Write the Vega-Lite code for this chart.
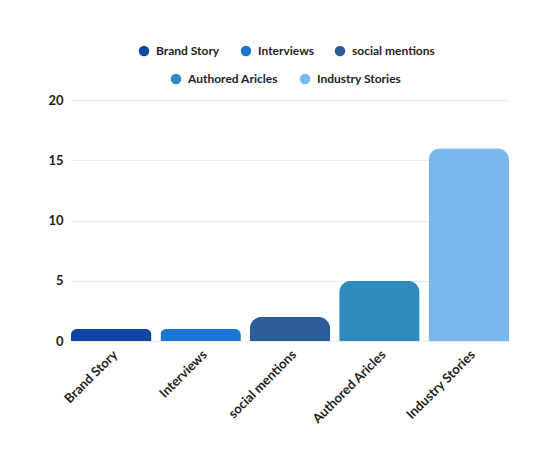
{
  "$schema": "https://vega.github.io/schema/vega-lite/v6.json",
  "width": 438,
  "height": 241,
  "autosize": "none",
  "padding": {"left": 71, "top": 100, "right": 41, "bottom": 113},
  "background": "white",
  "config": {
    "view": {"stroke": null},
    "font": "Lato",
    "axis": {"labelFont": "Lato", "labelFontWeight": "bold", "labelColor": "#1e1e1e"},
    "legend": {"labelFont": "Lato", "labelFontWeight": "bold", "labelColor": "#1e1e1e"}
  },
  "data": {
    "values": [
      {"category": "Brand Story", "count": 1, "row": 1},
      {"category": "Interviews", "count": 1, "row": 1},
      {"category": "social mentions", "count": 2, "row": 1},
      {"category": "Authored Aricles", "count": 5, "row": 2},
      {"category": "Industry Stories", "count": 16, "row": 2}
    ]
  },
  "encoding": {
    "x": {
      "field": "category",
      "type": "nominal",
      "sort": null,
      "title": null,
      "scale": {
        "domain": ["Brand Story", "Interviews", "social mentions", "Authored Aricles", "Industry Stories"],
        "paddingInner": 0.1,
        "paddingOuter": 0
      },
      "axis": {"labelAngle": -45, "labelFontSize": 13, "ticks": false, "domain": false, "labelPadding": 7}
    },
    "y": {
      "field": "count",
      "type": "quantitative",
      "title": null,
      "scale": {"domain": [0, 20]},
      "axis": {"values": [0, 5, 10, 15, 20], "ticks": false, "domain": false, "labelFontSize": 13, "labelPadding": 8, "gridColor": "#ececec"}
    }
  },
  "layer": [
    {
      "transform": [{"filter": "datum.row == 1"}],
      "mark": {"type": "bar", "cornerRadiusEnd": 12},
      "encoding": {
        "color": {
          "field": "category",
          "type": "nominal",
          "sort": null,
          "scale": {"domain": ["Brand Story", "Interviews", "social mentions"], "range": ["#0d47a1", "#1976d2", "#2d5d99"]},
          "legend": {
            "title": null, "orient": "none", "direction": "horizontal",
            "legendX": 67, "legendY": -55, "symbolType": "circle", "symbolSize": 110,
            "labelFontSize": 12, "columnPadding": 20, "labelOffset": 6
          }
        }
      }
    },
    {
      "transform": [{"filter": "datum.row == 2"}],
      "mark": {"type": "bar", "cornerRadiusEnd": 12},
      "encoding": {
        "color": {
          "field": "category",
          "type": "nominal",
          "sort": null,
          "scale": {"domain": ["Authored Aricles", "Industry Stories"], "range": ["#2f8bbd", "#79b8ee"]},
          "legend": {
            "title": null, "orient": "none", "direction": "horizontal",
            "legendX": 99, "legendY": -27, "symbolType": "circle", "symbolSize": 110,
            "labelFontSize": 12, "columnPadding": 21, "labelOffset": 6
          }
        }
      }
    }
  ],
  "resolve": {"scale": {"color": "independent"}}
}
